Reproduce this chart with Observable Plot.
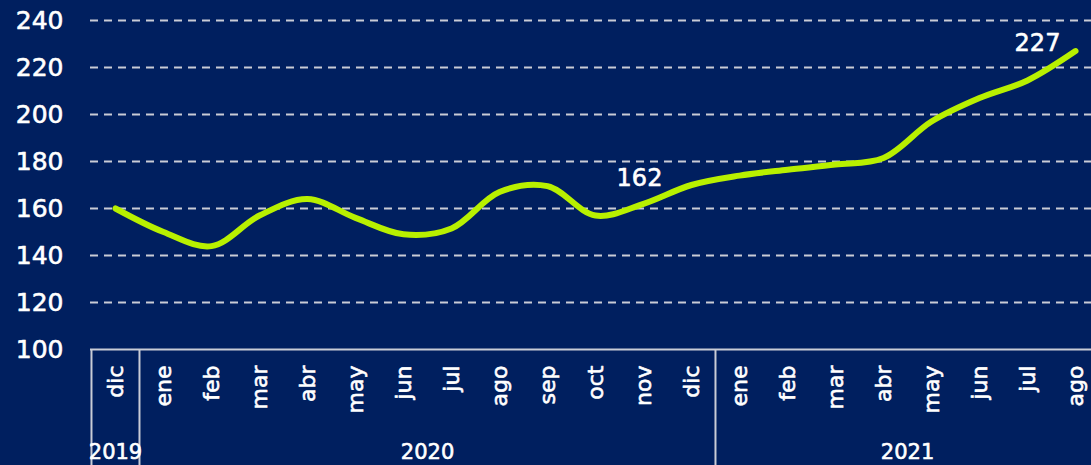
<!DOCTYPE html>
<html>
<head>
<meta charset="utf-8">
<script src="https://cdn.jsdelivr.net/npm/d3@7"></script>
<script src="https://cdn.jsdelivr.net/npm/@observablehq/plot@0.6"></script>
<style>
  html, body { margin: 0; padding: 0; background: #001f5f; overflow: hidden; }
</style>
</head>
<body>
<div id="chart"></div>
<script>
// Data
const monthKeys = ["2019-12","2020-01","2020-02","2020-03","2020-04","2020-05","2020-06","2020-07","2020-08","2020-09","2020-10","2020-11","2020-12","2021-01","2021-02","2021-03","2021-04","2021-05","2021-06","2021-07","2021-08"];
const monthLabels = ["dic","ene","feb","mar","abr","may","jun","jul","ago","sep","oct","nov","dic","ene","feb","mar","abr","may","jun","jul","ago"];
const values = [160, 150, 144, 157, 164, 156, 149, 151.5, 167, 169.5, 157, 162, 170, 174, 176.5, 178.7, 181.5, 197, 207, 214.5, 227];
const yTicks = [100, 120, 140, 160, 180, 200, 220, 240];
const years = ["2019", "2020", "2021"];
const yearAnchor = ["2019-12", "2020-06", "2021-04"];
const yearShift = [0, 1, 1]; // 1 = centred between anchor and next month
const groupStarts = ["2019-12", "2020-01", "2021-01"];
const annotations = [{key: "2020-11", value: 162, text: "162"}, {key: "2021-08", value: 227, text: "227"}];

const data = monthKeys.map((k, i) => ({key: k, label: monthLabels[i], value: values[i]}));
const yearData = years.map((y, i) => ({year: y, key: yearAnchor[i], shift: yearShift[i]}));

const W = 1091, H = 465;
const xRange = [90, 1099];
const step = (xRange[1] - xRange[0]) / monthKeys.length;

const white = "#ffffff";
const gridColor = "#c9ccd6";
const lineColor = "#b8f000";
const thick = {stroke: white, strokeWidth: 0.6};

const chart = Plot.plot({
  width: W,
  height: H,
  marginLeft: 90,
  marginRight: 0,
  marginTop: 20,
  marginBottom: 116,
  style: {background: "#001f5f", color: white, fontFamily: "'DejaVu Sans', sans-serif", overflow: "visible"},
  x: {type: "point", domain: monthKeys, range: xRange, padding: 0.5, axis: null},
  y: {domain: [100, 240], axis: null},
  marks: [
    Plot.ruleY(yTicks.filter(d => d > 100), {stroke: gridColor, strokeWidth: 2, strokeDasharray: "8,6"}),
    Plot.ruleY([100], {stroke: gridColor, strokeWidth: 2}),
    Plot.ruleX(groupStarts, {x: d => d, dx: -step / 2, y1: 100, y2: 50, stroke: gridColor, strokeWidth: 2, clip: false}),
    Plot.text(yTicks, {y: d => d, text: d => String(d), frameAnchor: "left", textAnchor: "end", dx: -27, fill: white, fontSize: 25, ...thick}),
    Plot.text(data, {x: "key", text: "label", frameAnchor: "bottom", rotate: -90, textAnchor: "end", lineAnchor: "middle", dy: 16, fill: white, fontSize: 22, ...thick}),
    Plot.text(yearData.filter(d => d.shift === 0), {x: "key", text: "year", frameAnchor: "bottom", dy: 103, lineAnchor: "middle", fill: white, fontSize: 21, ...thick}),
    Plot.text(yearData.filter(d => d.shift === 1), {x: "key", text: "year", frameAnchor: "bottom", dx: step / 2, dy: 103, lineAnchor: "middle", fill: white, fontSize: 21, ...thick}),
    Plot.line(data, {x: "key", y: "value", stroke: lineColor, strokeWidth: 6, curve: "catmull-rom", strokeLinecap: "round"}),
    Plot.text(annotations.slice(0, 1), {x: "key", y: "value", text: "text", dx: -4, dy: -25, fill: white, fontSize: 24, ...thick}),
    Plot.text(annotations.slice(1), {x: "key", y: "value", text: "text", dx: -38, dy: -8, fill: white, fontSize: 24, ...thick})
  ]
});
document.getElementById("chart").appendChild(chart);
</script>
</body>
</html>
